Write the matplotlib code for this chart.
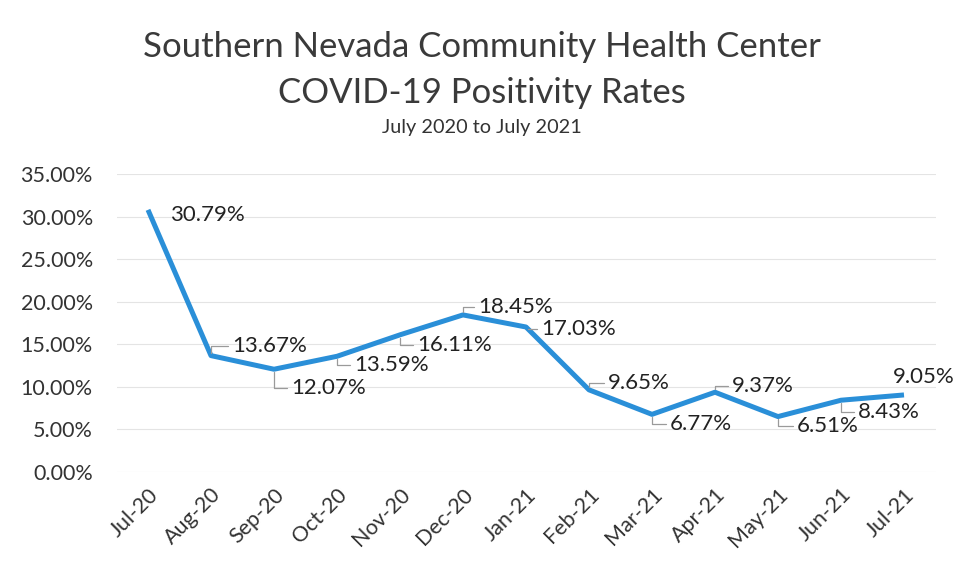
# COVID-19 positivity rates, Southern Nevada CHC
import matplotlib.pyplot as plt
from matplotlib.ticker import FuncFormatter

plt.rcParams['font.family'] = ['Lato', 'DejaVu Sans']

months = ['Jul-20', 'Aug-20', 'Sep-20', 'Oct-20', 'Nov-20', 'Dec-20', 'Jan-21',
          'Feb-21', 'Mar-21', 'Apr-21', 'May-21', 'Jun-21', 'Jul-21']
rates = [30.79, 13.67, 12.07, 13.59, 16.11, 18.45, 17.03,
         9.65, 6.77, 9.37, 6.51, 8.43, 9.05]
yticks = [0, 5, 10, 15, 20, 25, 30, 35]

# label offsets in pixels (dx, dy) and whether a leader line is shown
label_off = [(22, -5), (21, 10), (17, -19), (17, -9), (17, -10), (15, 8), (15, -2),
             (19, 7), (18, -10), (17, 6), (19, -9), (17, -12), (-11, 18)]
leader = [False, True, True, True, True, True, True,
          True, True, True, True, True, False]

fig = plt.figure(figsize=(9.63, 5.8), dpi=100)
ax = fig.add_axes([116.5 / 963, 1 - 472 / 580, (935.5 - 116.5) / 963, (472 - 174) / 580])

x = list(range(len(months)))
ax.plot(x, [r / 100 for r in rates], color='#2a8fd8', lw=3.6, solid_joinstyle='round',
        solid_capstyle='butt', zorder=3)

for i, r in enumerate(rates):
    dx, dy = label_off[i]
    props = None
    if leader[i]:
        props = dict(arrowstyle='-', color='#9a9a9a', lw=0.9, shrinkA=1, shrinkB=2,
                     connectionstyle='angle,angleA=0,angleB=90,rad=0')
    ax.annotate(f'{r:.2f}%', (i, r / 100), xytext=(dx, dy), textcoords='offset pixels',
                ha='left', va='center', fontsize=16, color='#222222', arrowprops=props)

ax.set_xlim(-0.5, len(months) - 0.5)
ax.set_ylim(0, 0.35)
ax.set_yticks([t / 100 for t in yticks])
ax.yaxis.set_major_formatter(FuncFormatter(lambda v, p: f'{v * 100:.2f}%'))
ax.set_xticks(x)
ax.set_xticklabels(months, rotation=45, ha='right', rotation_mode='anchor')
ax.tick_params(axis='both', length=0, labelsize=15.5, colors='#333333')
ax.tick_params(axis='y', pad=17)
ax.tick_params(axis='x', pad=9)
ax.grid(axis='y', color='#e4e4e4', lw=0.8)
ax.set_axisbelow(True)
for s in ax.spines.values():
    s.set_visible(False)

fig.text(0.5, 1 - 47 / 580, 'Southern Nevada Community Health Center', ha='center',
         va='center', fontsize=25, color='#3a3a3a')
fig.text(0.5, 1 - 93 / 580, 'COVID-19 Positivity Rates', ha='center',
         va='center', fontsize=25, color='#3a3a3a')
fig.text(0.5, 1 - 128 / 580, 'July 2020 to July 2021', ha='center',
         va='center', fontsize=14.3, color='#333333')

fig.savefig('out.png', dpi=100)
